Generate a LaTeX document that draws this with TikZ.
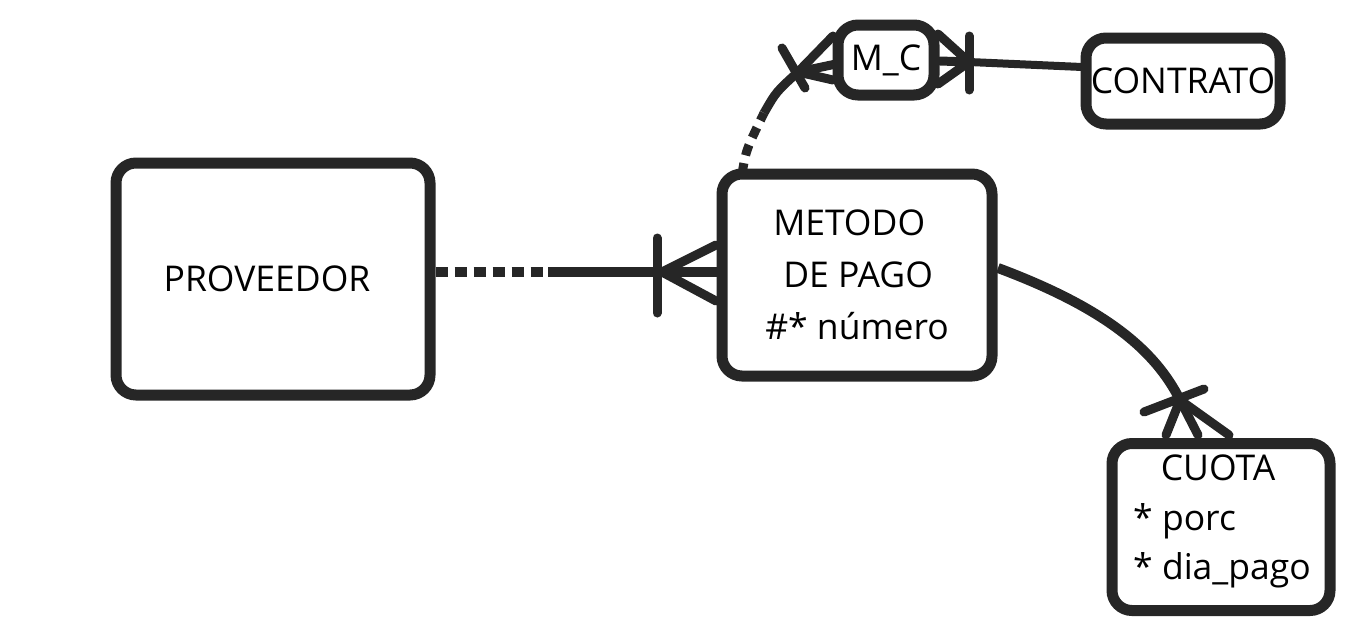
\documentclass[tikz,border=0pt]{standalone}
\usepackage{fontspec}
\setmainfont{Open Sans}
\usetikzlibrary{positioning}

\definecolor{ink}{RGB}{38,38,38}

\begin{document}
\begin{tikzpicture}[x=1pt,y=-1pt,auto]
   \useasboundingbox (0,0) rectangle (1350,629);
   \begin{scope}[every node/.style={draw=ink,line width=11pt,rounded corners=20pt,inner sep=0pt,font=\fontsize{35.5}{52}\selectfont}]
    \node[minimum width=314pt,minimum height=232pt] (prov) at (273,279) {\hspace*{-12pt}PROVEEDOR};
    \node[minimum width=270pt,minimum height=202pt,align=left] (metodo) at (857,275) {\hspace*{8pt}METODO\\ \hspace*{18pt}DE PAGO\\ \#* número};
    \node[minimum width=96pt,minimum height=70pt] (mc) at (886,60) {M\_C};
    \node[minimum width=194pt,minimum height=86pt] (contrato) at (1183,81) {CONTRATO};
    \node[minimum width=218pt,minimum height=167pt] (cuota) at (1221,527) {};
   \end{scope}
   \begin{scope}[every node/.style={font=\fontsize{35.5}{52}\selectfont,inner sep=0pt}]
    \node (c1) at (1218,468) {CUOTA};
    \node[anchor=west] (c2) at (1133,521) {* porc};
    \node[anchor=west] (c3) at (1133,570) {* dia\_pago};
   \end{scope}
   % free ends of the connectors
   \coordinate (p1) at (548,272);
   \coordinate (p2) at (662,272);
   \coordinate (mtop) at (742,174);
   \coordinate (m1) at (764,113);
   \coordinate (m2) at (798,72);
   \coordinate (m3) at (969,62);
   \coordinate (q1) at (1180,400);
   \begin{scope}[every edge/.style={draw=ink,line width=9pt,line cap=round}]
    \draw[draw=ink,line width=10pt,dash pattern=on 12pt off 7pt] (prov.east |- p1) -- (p1);
    \draw[draw=ink,line width=10pt] (p1) -- (metodo.west |- p1);
    \draw  (p2) edge (716,245);
    \draw  (p2) edge (716,301);
    \draw  (657,238) edge (657,313);
    \draw[draw=ink,line width=9pt,dash pattern=on 11pt off 8pt] (mtop) .. controls (746,150) .. (m1);
    \draw[draw=ink,line width=9pt] (m1) .. controls (776,92) .. (m2);
    \draw  (m2) edge (833,36);
    \draw  (m2) edge (836,64);
    \draw  (m2) edge (833,80);
    \draw  (782,48) edge (805,88);
    \draw[draw=ink,line width=8pt] (m3) -- (1082,67);
    \draw  (m3) edge (938,34);
    \draw  (m3) edge (940,61);
    \draw  (m3) edge (938,84);
    \draw  (969,36) edge (969,90);
    \draw[draw=ink,line width=10pt] (998,268) .. controls (1105,308) and (1155,350) .. (q1);
    \draw  (q1) edge (1166,435);
    \draw  (q1) edge (1198,435);
    \draw  (q1) edge (1229,435);
    \draw  (1144,412) edge (1204,389);
   \end{scope}
\end{tikzpicture}
\end{document}
